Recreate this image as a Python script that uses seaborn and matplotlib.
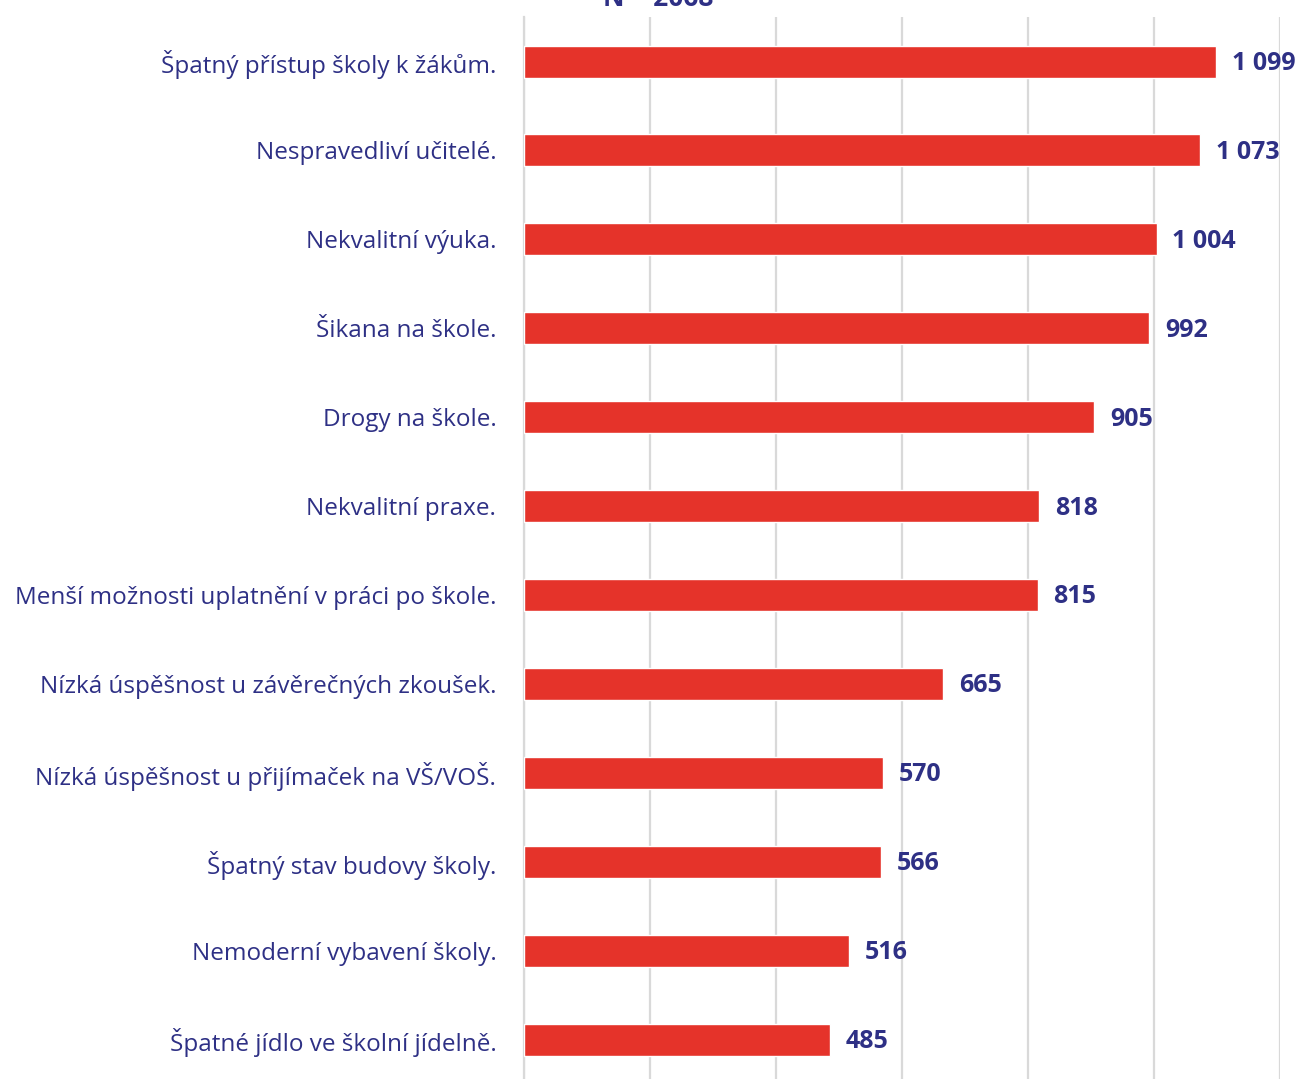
import numpy as np
import pandas as pd
import matplotlib.pyplot as plt
import seaborn as sns

categories = [
    "Špatný přístup školy k žákům.",
    "Nespravedliví učitelé.",
    "Nekvalitní výuka.",
    "Šikana na škole.",
    "Drogy na škole.",
    "Nekvalitní praxe.",
    "Menší možnosti uplatnění v práci po škole.",
    "Nízká úspěšnost u závěrečných zkoušek.",
    "Nízká úspěšnost u přijímaček na VŠ/VOŠ.",
    "Špatný stav budovy školy.",
    "Nemoderní vybavení školy.",
    "Špatné jídlo ve školní jídelně.",
]
values = [1099, 1073, 1004, 992, 905, 818, 815, 665, 570, 566, 516, 485]
title = "N = 2068"

navy = "#2e3085"
red = "#e5332a"

sns.set_style("white")
plt.rcParams['font.family'] = ['Open Sans', 'DejaVu Sans']

df = pd.DataFrame({"cat": categories, "val": values})

fig = plt.figure(figsize=(13.01, 10.79), dpi=100)
ax = fig.add_axes([0.4028, -0.005, 0.5811, 0.9892])

sns.barplot(data=df, y="cat", x="val", orient="h", color=red, width=0.36,
            saturation=1, ax=ax, zorder=3)

ax.set_xlim(0, 1200)
ax.set_ylim(11.5, -0.5)
ax.set_xticks(np.arange(0, 1201, 200))
ax.set_xticklabels([])
ax.tick_params(axis="x", length=0)
ax.grid(axis="x", color="#d9d9d9", linewidth=1.6, zorder=0)
ax.grid(axis="y", visible=False)

ax.set_yticks(range(len(categories)))
ax.set_yticklabels(categories, fontsize=17.5, color=navy)
ax.tick_params(axis="y", which="major", length=0, pad=20)
ax.set_yticks(np.arange(-0.5, len(categories), 1), minor=True)
ax.tick_params(axis="y", which="minor", length=9, width=1.5, color="#d9d9d9")

for s in ["top", "right", "bottom"]:
    ax.spines[s].set_visible(False)
ax.spines["left"].set_color("#d9d9d9")
ax.spines["left"].set_linewidth(1.6)

ax.set_xlabel("")
ax.set_ylabel("")

for i, v in enumerate(values):
    lab = f"{v:,}".replace(",", " ")
    ax.text(v + 25, i + 0.02, lab, va="center", ha="left", fontsize=18,
            fontweight="bold", color=navy, clip_on=False)

fig.text(0.506, 0.9945, title, ha="center", va="baseline", fontsize=19,
         fontweight="bold", color=navy)

fig.savefig("out.png", dpi=100)
